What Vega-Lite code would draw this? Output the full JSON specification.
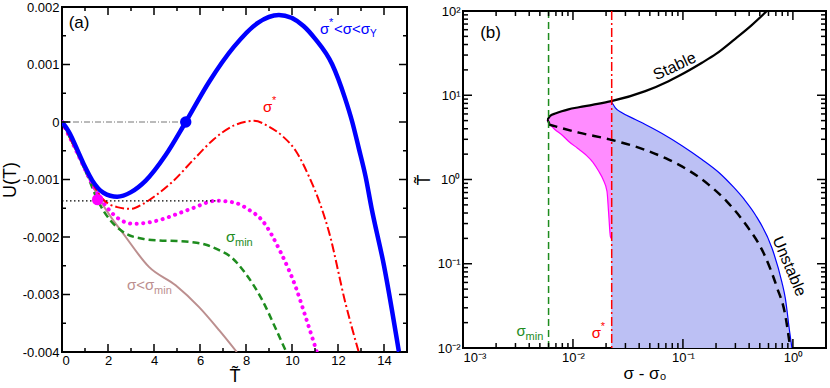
{
  "$schema": "https://vega.github.io/schema/vega-lite/v6.json",
  "padding": {"left": 0, "top": 0, "right": 3, "bottom": 0},
  "spacing": 6,
  "center": true,
  "config": {
    "view": {"stroke": "black", "strokeWidth": 2},
    "font": "Liberation Sans",
    "axis": {"domain": false, "grid": false, "ticks": false, "labelFontSize": 13, "labelColor": "black", "labelFont": "Liberation Sans", "titleFont": "Liberation Sans", "titleFontWeight": "normal", "titleColor": "black"},
    "text": {"font": "Liberation Sans"},
    "tick": {"color": "black", "thickness": 1.5, "opacity": 1}
  },
  "datasets": {
    "blue": [
      {"T": 0, "U": 0}, {"T": 0.3, "U": -0.00017}, {"T": 0.74, "U": -0.00055}, {"T": 1.0, "U": -0.00078}, {"T": 1.32, "U": -0.00102}, {"T": 1.8, "U": -0.00123}, {"T": 2.4, "U": -0.0013}, {"T": 3.0, "U": -0.00122}, {"T": 3.64, "U": -0.00102}, {"T": 4.5, "U": -0.00058}, {"T": 5.38, "U": 0}, {"T": 6.4, "U": 0.0007}, {"T": 7.48, "U": 0.00131}, {"T": 8.5, "U": 0.00172}, {"T": 9.43, "U": 0.00186}, {"T": 10.5, "U": 0.00167}, {"T": 11.0, "U": 0.00145}, {"T": 11.75, "U": 0.001}, {"T": 12.3, "U": 0.00042}, {"T": 12.62, "U": 0}, {"T": 12.9, "U": -0.00045}, {"T": 13.2, "U": -0.00095}, {"T": 13.46, "U": -0.0015}, {"T": 14.0, "U": -0.0025}, {"T": 14.65, "U": -0.004}
    ],
    "red": [
      {"T": 0, "U": 0}, {"T": 0.5, "U": -0.0004}, {"T": 1.0, "U": -0.0008}, {"T": 1.75, "U": -0.00133}, {"T": 2.4, "U": -0.00148}, {"T": 3.0, "U": -0.00151}, {"T": 3.5, "U": -0.00143}, {"T": 4.0, "U": -0.0013}, {"T": 4.8, "U": -0.00104}, {"T": 5.8, "U": -0.00062}, {"T": 6.6, "U": -0.0003}, {"T": 7.48, "U": -0.00006}, {"T": 8.35, "U": 0.00002}, {"T": 9.0, "U": -0.00008}, {"T": 9.6, "U": -0.00025}, {"T": 10.16, "U": -0.0005}, {"T": 10.74, "U": -0.00095}, {"T": 11.2, "U": -0.0014}, {"T": 11.6, "U": -0.0019}, {"T": 12.33, "U": -0.00316}, {"T": 12.9, "U": -0.004}
    ],
    "magenta": [
      {"T": 0, "U": 0}, {"T": 0.5, "U": -0.0004}, {"T": 1.0, "U": -0.00082}, {"T": 1.6, "U": -0.00128}, {"T": 2.19, "U": -0.00159}, {"T": 3.1, "U": -0.00177}, {"T": 4.2, "U": -0.00171}, {"T": 5.0, "U": -0.0016}, {"T": 5.67, "U": -0.0015}, {"T": 6.7, "U": -0.00137}, {"T": 7.48, "U": -0.0014}, {"T": 8.1, "U": -0.00152}, {"T": 8.7, "U": -0.00171}, {"T": 9.5, "U": -0.00226}, {"T": 10.16, "U": -0.00287}, {"T": 10.6, "U": -0.0034}, {"T": 11.08, "U": -0.004}
    ],
    "green": [
      {"T": 0, "U": 0}, {"T": 0.5, "U": -0.0004}, {"T": 1.0, "U": -0.00083}, {"T": 1.6, "U": -0.0014}, {"T": 2.04, "U": -0.00168}, {"T": 2.77, "U": -0.00194}, {"T": 3.5, "U": -0.00203}, {"T": 4.22, "U": -0.00206}, {"T": 5.0, "U": -0.00207}, {"T": 5.67, "U": -0.00209}, {"T": 6.3, "U": -0.00214}, {"T": 6.83, "U": -0.00223}, {"T": 7.26, "U": -0.00232}, {"T": 7.99, "U": -0.00264}, {"T": 8.71, "U": -0.0031}, {"T": 9.3, "U": -0.0036}, {"T": 9.75, "U": -0.004}
    ],
    "brown": [
      {"T": 0, "U": 0}, {"T": 0.5, "U": -0.0004}, {"T": 1.0, "U": -0.00085}, {"T": 1.75, "U": -0.00142}, {"T": 2.77, "U": -0.002}, {"T": 3.78, "U": -0.00252}, {"T": 4.94, "U": -0.00284}, {"T": 5.96, "U": -0.00322}, {"T": 6.83, "U": -0.00362}, {"T": 7.6, "U": -0.004}
    ],
    "lxmaj": [{"v": 0}, {"v": 2}, {"v": 4}, {"v": 6}, {"v": 8}, {"v": 10}, {"v": 12}, {"v": 14}],
    "lxmin": [{"v": 1}, {"v": 3}, {"v": 5}, {"v": 7}, {"v": 9}, {"v": 11}, {"v": 13}],
    "lymaj": [{"v": -0.004}, {"v": -0.003}, {"v": -0.002}, {"v": -0.001}, {"v": 0}, {"v": 0.001}, {"v": 0.002}],
    "lymin": [{"v": -0.0035}, {"v": -0.0025}, {"v": -0.0015}, {"v": -0.0005}, {"v": 0.0005}, {"v": 0.0015}],
    "rxmaj": [{"v": 0.001}, {"v": 0.01}, {"v": 0.1}, {"v": 1}],
    "rxmin": [{"v": 0.002}, {"v": 0.003}, {"v": 0.004}, {"v": 0.005}, {"v": 0.006}, {"v": 0.007}, {"v": 0.008}, {"v": 0.009}, {"v": 0.02}, {"v": 0.03}, {"v": 0.04}, {"v": 0.05}, {"v": 0.06}, {"v": 0.07}, {"v": 0.08}, {"v": 0.09}, {"v": 0.2}, {"v": 0.3}, {"v": 0.4}, {"v": 0.5}, {"v": 0.6}, {"v": 0.7}, {"v": 0.8}, {"v": 0.9}, {"v": 2}],
    "rymaj": [{"v": 0.01}, {"v": 0.1}, {"v": 1}, {"v": 10}, {"v": 100}],
    "rymin": [{"v": 0.02}, {"v": 0.03}, {"v": 0.04}, {"v": 0.05}, {"v": 0.06}, {"v": 0.07}, {"v": 0.08}, {"v": 0.09}, {"v": 0.2}, {"v": 0.3}, {"v": 0.4}, {"v": 0.5}, {"v": 0.6}, {"v": 0.7}, {"v": 0.8}, {"v": 0.9}, {"v": 2}, {"v": 3}, {"v": 4}, {"v": 5}, {"v": 6}, {"v": 7}, {"v": 8}, {"v": 9}, {"v": 20}, {"v": 30}, {"v": 40}, {"v": 50}, {"v": 60}, {"v": 70}, {"v": 80}, {"v": 90}],
    "stable": [
      {"i": 0, "s": 0.0061, "T": 4.6}, {"i": 1, "s": 0.0058, "T": 5.1}, {"i": 2, "s": 0.0062, "T": 5.7}, {"i": 3, "s": 0.007, "T": 6.1}, {"i": 4, "s": 0.0079, "T": 6.45}, {"i": 5, "s": 0.0091, "T": 6.8}, {"i": 6, "s": 0.0113, "T": 7.2}, {"i": 7, "s": 0.015, "T": 7.7}, {"i": 8, "s": 0.0223, "T": 8.5}, {"i": 9, "s": 0.0455, "T": 11.2}, {"i": 10, "s": 0.074, "T": 14.7}, {"i": 11, "s": 0.0914, "T": 16.9}, {"i": 12, "s": 0.149, "T": 24.3}, {"i": 13, "s": 0.2, "T": 30.9}, {"i": 14, "s": 0.299, "T": 46.8}, {"i": 15, "s": 0.42, "T": 67.6}, {"i": 16, "s": 0.58, "T": 100}
    ],
    "pinkarea": [
      {"s": 0.0058, "lo": 5.1, "hi": 5.1}, {"s": 0.0062, "lo": 4.5, "hi": 5.7}, {"s": 0.0068, "lo": 3.95, "hi": 6.0}, {"s": 0.008, "lo": 3.35, "hi": 6.45}, {"s": 0.0091, "lo": 2.85, "hi": 6.8}, {"s": 0.011, "lo": 2.35, "hi": 7.15}, {"s": 0.013, "lo": 1.98, "hi": 7.45}, {"s": 0.0152, "lo": 1.6, "hi": 7.75}, {"s": 0.0171, "lo": 1.26, "hi": 8.0}, {"s": 0.0188, "lo": 1.0, "hi": 8.2}, {"s": 0.0204, "lo": 0.72, "hi": 8.35}, {"s": 0.0211, "lo": 0.4, "hi": 8.42}, {"s": 0.0219, "lo": 0.21, "hi": 8.5}, {"s": 0.0223, "lo": 0.2, "hi": 8.5}
    ],
    "bluearea": [
      {"s": 0.0223, "T": 8.5}, {"s": 0.0243, "T": 7.1}, {"s": 0.0279, "T": 6.2}, {"s": 0.0369, "T": 5.16}, {"s": 0.0455, "T": 4.5}, {"s": 0.0646, "T": 3.52}, {"s": 0.098, "T": 2.52}, {"s": 0.149, "T": 1.73}, {"s": 0.211, "T": 1.22}, {"s": 0.289, "T": 0.81}, {"s": 0.36, "T": 0.583}, {"s": 0.455, "T": 0.382}, {"s": 0.645, "T": 0.154}, {"s": 0.794, "T": 0.0605}, {"s": 0.853, "T": 0.039}, {"s": 0.933, "T": 0.0158}, {"s": 0.98, "T": 0.01}
    ],
    "dashed": [
      {"s": 0.006, "T": 4.5}, {"s": 0.0113, "T": 3.6}, {"s": 0.0226, "T": 2.95}, {"s": 0.0455, "T": 2.24}, {"s": 0.074, "T": 1.72}, {"s": 0.0914, "T": 1.5}, {"s": 0.171, "T": 0.87}, {"s": 0.25, "T": 0.55}, {"s": 0.382, "T": 0.28}, {"s": 0.54, "T": 0.135}, {"s": 0.716, "T": 0.0525}, {"s": 0.85, "T": 0.025}, {"s": 0.946, "T": 0.01}
    ]
  },
  "hconcat": [
    {
      "width": 345,
      "height": 345,
      "layer": [
        {
          "data": {"name": "brown"},
          "mark": {"type": "line", "color": "#bc8f8f", "strokeWidth": 2, "interpolate": "monotone", "clip": true},
          "encoding": {
            "x": {"field": "T", "type": "quantitative", "scale": {"domain": [0, 15], "nice": false}, "axis": {"orient": "bottom", "values": [0, 2, 4, 6, 8, 10, 12, 14], "labelPadding": 2, "title": "T\u0303", "titleFontSize": 18, "titlePadding": 0}},
            "y": {"field": "U", "type": "quantitative", "scale": {"domain": [-0.004, 0.002], "nice": false, "zero": false}, "axis": {"orient": "left", "values": [-0.004, -0.003, -0.002, -0.001, 0, 0.001, 0.002], "labelPadding": 3, "labelExpr": "datum.value + ''", "title": "U(T)", "titleFontSize": 18, "titlePadding": 3}}
          }
        },
        {
          "data": {"name": "green"},
          "mark": {"type": "line", "color": "#1e8c1e", "strokeWidth": 2.5, "strokeDash": [7, 4], "interpolate": "monotone", "clip": true},
          "encoding": {"x": {"field": "T", "type": "quantitative"}, "y": {"field": "U", "type": "quantitative"}}
        },
        {
          "data": {"name": "magenta"},
          "mark": {"type": "line", "color": "#ff00ff", "strokeWidth": 4, "strokeDash": [0.1, 6.5], "strokeCap": "round", "interpolate": "monotone", "clip": true},
          "encoding": {"x": {"field": "T", "type": "quantitative"}, "y": {"field": "U", "type": "quantitative"}}
        },
        {
          "data": {"name": "red"},
          "mark": {"type": "line", "color": "#ff0000", "strokeWidth": 2, "strokeDash": [9, 3, 2, 3], "interpolate": "monotone", "clip": true},
          "encoding": {"x": {"field": "T", "type": "quantitative"}, "y": {"field": "U", "type": "quantitative"}}
        },
        {
          "data": {"name": "blue"},
          "mark": {"type": "line", "color": "#0000ff", "strokeWidth": 4.5, "interpolate": "monotone", "clip": true},
          "encoding": {"x": {"field": "T", "type": "quantitative"}, "y": {"field": "U", "type": "quantitative"}}
        },
        {
          "data": {"values": [{"T": 0, "U": 0}, {"T": 5.38, "U": 0}]},
          "mark": {"type": "line", "color": "#777777", "strokeWidth": 1, "strokeDash": [6, 2, 1, 2]},
          "encoding": {"x": {"field": "T", "type": "quantitative"}, "y": {"field": "U", "type": "quantitative"}}
        },
        {
          "data": {"values": [{"T": 0, "U": -0.00137}, {"T": 6.8, "U": -0.00137}]},
          "mark": {"type": "line", "color": "black", "strokeWidth": 1.2, "strokeDash": [1.5, 2.5]},
          "encoding": {"x": {"field": "T", "type": "quantitative"}, "y": {"field": "U", "type": "quantitative"}}
        },
        {
          "data": {"values": [{"T": 5.38, "U": 0}]},
          "mark": {"type": "point", "filled": true, "color": "#0000ff", "size": 130, "opacity": 1, "shape": "circle"},
          "encoding": {"x": {"field": "T", "type": "quantitative"}, "y": {"field": "U", "type": "quantitative"}}
        },
        {
          "data": {"values": [{"T": 1.55, "U": -0.00135}]},
          "mark": {"type": "point", "filled": true, "color": "#ff00ff", "size": 130, "opacity": 1, "shape": "circle"},
          "encoding": {"x": {"field": "T", "type": "quantitative"}, "y": {"field": "U", "type": "quantitative"}}
        },
        {
          "data": {"name": "lxmaj"},
          "mark": {"type": "tick", "orient": "vertical", "size": 16, "clip": true},
          "encoding": {"x": {"field": "v", "type": "quantitative"}, "y": {"datum": -0.004}}
        },
        {
          "data": {"name": "lxmaj"},
          "mark": {"type": "tick", "orient": "vertical", "size": 16, "clip": true},
          "encoding": {"x": {"field": "v", "type": "quantitative"}, "y": {"datum": 0.002}}
        },
        {
          "data": {"name": "lxmin"},
          "mark": {"type": "tick", "orient": "vertical", "size": 8, "clip": true},
          "encoding": {"x": {"field": "v", "type": "quantitative"}, "y": {"datum": -0.004}}
        },
        {
          "data": {"name": "lxmin"},
          "mark": {"type": "tick", "orient": "vertical", "size": 8, "clip": true},
          "encoding": {"x": {"field": "v", "type": "quantitative"}, "y": {"datum": 0.002}}
        },
        {
          "data": {"name": "lymaj"},
          "mark": {"type": "tick", "orient": "horizontal", "size": 16, "clip": true},
          "encoding": {"y": {"field": "v", "type": "quantitative"}, "x": {"datum": 0}}
        },
        {
          "data": {"name": "lymaj"},
          "mark": {"type": "tick", "orient": "horizontal", "size": 16, "clip": true},
          "encoding": {"y": {"field": "v", "type": "quantitative"}, "x": {"datum": 15}}
        },
        {
          "data": {"name": "lymin"},
          "mark": {"type": "tick", "orient": "horizontal", "size": 8, "clip": true},
          "encoding": {"y": {"field": "v", "type": "quantitative"}, "x": {"datum": 0}}
        },
        {
          "data": {"name": "lymin"},
          "mark": {"type": "tick", "orient": "horizontal", "size": 8, "clip": true},
          "encoding": {"y": {"field": "v", "type": "quantitative"}, "x": {"datum": 15}}
        },
        {
          "data": {"values": [{"T": 0.74, "U": 0.00173, "label": "(a)"}]},
          "mark": {"type": "text", "fontSize": 17, "color": "black", "align": "center", "baseline": "middle"},
          "encoding": {"x": {"field": "T", "type": "quantitative"}, "y": {"field": "U", "type": "quantitative"}, "text": {"field": "label"}}
        },
        {
          "data": {"values": [{"T": 11.22, "U": 0.00161, "label": "σ"}]},
          "mark": {"type": "text", "fontSize": 15, "color": "#0000ff", "align": "left", "baseline": "middle"},
          "encoding": {"x": {"field": "T", "type": "quantitative"}, "y": {"field": "U", "type": "quantitative"}, "text": {"field": "label"}}
        },
        {
          "data": {"values": [{"T": 11.22, "U": 0.00161, "label": "*"}]},
          "mark": {"type": "text", "fontSize": 11, "color": "#0000ff", "align": "left", "baseline": "middle", "dx": 9, "dy": -6},
          "encoding": {"x": {"field": "T", "type": "quantitative"}, "y": {"field": "U", "type": "quantitative"}, "text": {"field": "label"}}
        },
        {
          "data": {"values": [{"T": 11.22, "U": 0.00161, "label": "<σ<σ"}]},
          "mark": {"type": "text", "fontSize": 15, "color": "#0000ff", "align": "left", "baseline": "middle", "dx": 14},
          "encoding": {"x": {"field": "T", "type": "quantitative"}, "y": {"field": "U", "type": "quantitative"}, "text": {"field": "label"}}
        },
        {
          "data": {"values": [{"T": 11.22, "U": 0.00161, "label": "Y"}]},
          "mark": {"type": "text", "fontSize": 10, "color": "#0000ff", "align": "left", "baseline": "middle", "dx": 50, "dy": 5},
          "encoding": {"x": {"field": "T", "type": "quantitative"}, "y": {"field": "U", "type": "quantitative"}, "text": {"field": "label"}}
        },
        {
          "data": {"values": [{"T": 8.74, "U": 0.000256, "label": "σ"}]},
          "mark": {"type": "text", "fontSize": 15, "color": "#ff0000", "align": "left", "baseline": "middle"},
          "encoding": {"x": {"field": "T", "type": "quantitative"}, "y": {"field": "U", "type": "quantitative"}, "text": {"field": "label"}}
        },
        {
          "data": {"values": [{"T": 8.74, "U": 0.000256, "label": "*"}]},
          "mark": {"type": "text", "fontSize": 11, "color": "#ff0000", "align": "left", "baseline": "middle", "dx": 9, "dy": -6},
          "encoding": {"x": {"field": "T", "type": "quantitative"}, "y": {"field": "U", "type": "quantitative"}, "text": {"field": "label"}}
        },
        {
          "data": {"values": [{"T": 7.13, "U": -0.002, "label": "σ"}]},
          "mark": {"type": "text", "fontSize": 15, "color": "#1e8c1e", "align": "left", "baseline": "middle"},
          "encoding": {"x": {"field": "T", "type": "quantitative"}, "y": {"field": "U", "type": "quantitative"}, "text": {"field": "label"}}
        },
        {
          "data": {"values": [{"T": 7.13, "U": -0.002, "label": "min"}]},
          "mark": {"type": "text", "fontSize": 11, "color": "#1e8c1e", "align": "left", "baseline": "middle", "dx": 9, "dy": 6},
          "encoding": {"x": {"field": "T", "type": "quantitative"}, "y": {"field": "U", "type": "quantitative"}, "text": {"field": "label"}}
        },
        {
          "data": {"values": [{"T": 2.83, "U": -0.00284, "label": "σ<σ"}]},
          "mark": {"type": "text", "fontSize": 15, "color": "#bc8f8f", "align": "left", "baseline": "middle"},
          "encoding": {"x": {"field": "T", "type": "quantitative"}, "y": {"field": "U", "type": "quantitative"}, "text": {"field": "label"}}
        },
        {
          "data": {"values": [{"T": 2.83, "U": -0.00284, "label": "min"}]},
          "mark": {"type": "text", "fontSize": 11, "color": "#bc8f8f", "align": "left", "baseline": "middle", "dx": 27, "dy": 6},
          "encoding": {"x": {"field": "T", "type": "quantitative"}, "y": {"field": "U", "type": "quantitative"}, "text": {"field": "label"}}
        }
      ]
    },
    {
      "width": 363,
      "height": 337,
      "layer": [
        {
          "data": {"name": "bluearea"},
          "mark": {"type": "area", "color": "#bcc0f4", "opacity": 1, "clip": true, "interpolate": "monotone"},
          "encoding": {
            "x": {"field": "s", "type": "quantitative", "scale": {"type": "log", "domain": [0.001, 2], "nice": false}, "axis": {"orient": "bottom", "values": [0.001, 0.01, 0.1, 1], "labelPadding": 3, "labelExpr": "datum.value < 0.005 ? '10⁻³' : datum.value < 0.05 ? '10⁻²' : datum.value < 0.5 ? '10⁻¹' : '10⁰'", "title": "σ - σ₀", "titleFontSize": 17, "titlePadding": 1}},
            "y": {"field": "T", "type": "quantitative", "scale": {"type": "log", "domain": [0.01, 100], "nice": false}, "axis": {"orient": "left", "values": [0.01, 0.1, 1, 10, 100], "labelPadding": 3, "labelExpr": "datum.value < 0.05 ? '10⁻²' : datum.value < 0.5 ? '10⁻¹' : datum.value < 5 ? '10⁰' : datum.value < 50 ? '10¹' : '10²'", "title": "T\u0303", "titleFontSize": 18, "titlePadding": 4}},
            "y2": {"datum": 0.01}
          }
        },
        {
          "data": {"name": "pinkarea"},
          "mark": {"type": "area", "color": "#ff00ff", "opacity": 0.45, "clip": true, "interpolate": "monotone"},
          "encoding": {"x": {"field": "s", "type": "quantitative"}, "y": {"field": "hi", "type": "quantitative"}, "y2": {"field": "lo"}}
        },
        {
          "data": {"name": "pinkarea"},
          "mark": {"type": "line", "color": "#ff00ff", "strokeWidth": 1.2, "clip": true, "interpolate": "monotone"},
          "encoding": {"x": {"field": "s", "type": "quantitative"}, "y": {"field": "lo", "type": "quantitative"}}
        },
        {
          "data": {"name": "bluearea"},
          "mark": {"type": "line", "color": "#0000ff", "strokeWidth": 1.2, "clip": true, "interpolate": "monotone"},
          "encoding": {"x": {"field": "s", "type": "quantitative"}, "y": {"field": "T", "type": "quantitative"}}
        },
        {
          "data": {"name": "dashed"},
          "mark": {"type": "line", "color": "black", "strokeWidth": 2.5, "strokeDash": [9, 6], "clip": true, "interpolate": "monotone"},
          "encoding": {"x": {"field": "s", "type": "quantitative"}, "y": {"field": "T", "type": "quantitative"}}
        },
        {
          "data": {"name": "stable"},
          "mark": {"type": "line", "color": "black", "strokeWidth": 2.2, "clip": true, "interpolate": "monotone"},
          "encoding": {"x": {"field": "s", "type": "quantitative"}, "y": {"field": "T", "type": "quantitative"}, "order": {"field": "i"}}
        },
        {
          "data": {"values": [{"s": 0.006}]},
          "mark": {"type": "rule", "color": "#1e8c1e", "strokeWidth": 1.5, "strokeDash": [7, 4]},
          "encoding": {"x": {"field": "s", "type": "quantitative"}}
        },
        {
          "data": {"values": [{"s": 0.0225}]},
          "mark": {"type": "rule", "color": "#ff0000", "strokeWidth": 1.5, "strokeDash": [9, 3, 2, 3]},
          "encoding": {"x": {"field": "s", "type": "quantitative"}}
        },
        {
          "data": {"name": "rxmaj"},
          "mark": {"type": "tick", "orient": "vertical", "size": 18, "clip": true},
          "encoding": {"x": {"field": "v", "type": "quantitative"}, "y": {"datum": 0.01}}
        },
        {
          "data": {"name": "rxmaj"},
          "mark": {"type": "tick", "orient": "vertical", "size": 18, "clip": true},
          "encoding": {"x": {"field": "v", "type": "quantitative"}, "y": {"datum": 100}}
        },
        {
          "data": {"name": "rxmin"},
          "mark": {"type": "tick", "orient": "vertical", "size": 10, "clip": true},
          "encoding": {"x": {"field": "v", "type": "quantitative"}, "y": {"datum": 0.01}}
        },
        {
          "data": {"name": "rxmin"},
          "mark": {"type": "tick", "orient": "vertical", "size": 10, "clip": true},
          "encoding": {"x": {"field": "v", "type": "quantitative"}, "y": {"datum": 100}}
        },
        {
          "data": {"name": "rymaj"},
          "mark": {"type": "tick", "orient": "horizontal", "size": 18, "clip": true},
          "encoding": {"y": {"field": "v", "type": "quantitative"}, "x": {"datum": 0.001}}
        },
        {
          "data": {"name": "rymaj"},
          "mark": {"type": "tick", "orient": "horizontal", "size": 18, "clip": true},
          "encoding": {"y": {"field": "v", "type": "quantitative"}, "x": {"datum": 2}}
        },
        {
          "data": {"name": "rymin"},
          "mark": {"type": "tick", "orient": "horizontal", "size": 10, "clip": true},
          "encoding": {"y": {"field": "v", "type": "quantitative"}, "x": {"datum": 0.001}}
        },
        {
          "data": {"name": "rymin"},
          "mark": {"type": "tick", "orient": "horizontal", "size": 10, "clip": true},
          "encoding": {"y": {"field": "v", "type": "quantitative"}, "x": {"datum": 2}}
        },
        {
          "data": {"values": [{"s": 0.00178, "T": 55, "label": "(b)"}]},
          "mark": {"type": "text", "fontSize": 17, "color": "black", "align": "center", "baseline": "middle"},
          "encoding": {"x": {"field": "s", "type": "quantitative"}, "y": {"field": "T", "type": "quantitative"}, "text": {"field": "label"}}
        },
        {
          "data": {"values": [{"s": 0.0841, "T": 22, "label": "Stable"}]},
          "mark": {"type": "text", "fontSize": 16, "color": "black", "align": "center", "baseline": "middle", "angle": -25},
          "encoding": {"x": {"field": "s", "type": "quantitative"}, "y": {"field": "T", "type": "quantitative"}, "text": {"field": "label"}}
        },
        {
          "data": {"values": [{"s": 0.927, "T": 0.093, "label": "Unstable"}]},
          "mark": {"type": "text", "fontSize": 16, "color": "black", "align": "center", "baseline": "middle", "angle": 67},
          "encoding": {"x": {"field": "s", "type": "quantitative"}, "y": {"field": "T", "type": "quantitative"}, "text": {"field": "label"}}
        },
        {
          "data": {"values": [{"s": 0.00307, "T": 0.0158, "label": "σ"}]},
          "mark": {"type": "text", "fontSize": 15, "color": "#1e8c1e", "align": "left", "baseline": "middle"},
          "encoding": {"x": {"field": "s", "type": "quantitative"}, "y": {"field": "T", "type": "quantitative"}, "text": {"field": "label"}}
        },
        {
          "data": {"values": [{"s": 0.00307, "T": 0.0158, "label": "min"}]},
          "mark": {"type": "text", "fontSize": 11, "color": "#1e8c1e", "align": "left", "baseline": "middle", "dx": 9, "dy": 6},
          "encoding": {"x": {"field": "s", "type": "quantitative"}, "y": {"field": "T", "type": "quantitative"}, "text": {"field": "label"}}
        },
        {
          "data": {"values": [{"s": 0.0148, "T": 0.0151, "label": "σ"}]},
          "mark": {"type": "text", "fontSize": 15, "color": "#ff0000", "align": "left", "baseline": "middle"},
          "encoding": {"x": {"field": "s", "type": "quantitative"}, "y": {"field": "T", "type": "quantitative"}, "text": {"field": "label"}}
        },
        {
          "data": {"values": [{"s": 0.0148, "T": 0.0151, "label": "*"}]},
          "mark": {"type": "text", "fontSize": 11, "color": "#ff0000", "align": "left", "baseline": "middle", "dx": 9, "dy": -6},
          "encoding": {"x": {"field": "s", "type": "quantitative"}, "y": {"field": "T", "type": "quantitative"}, "text": {"field": "label"}}
        }
      ]
    }
  ]
}
